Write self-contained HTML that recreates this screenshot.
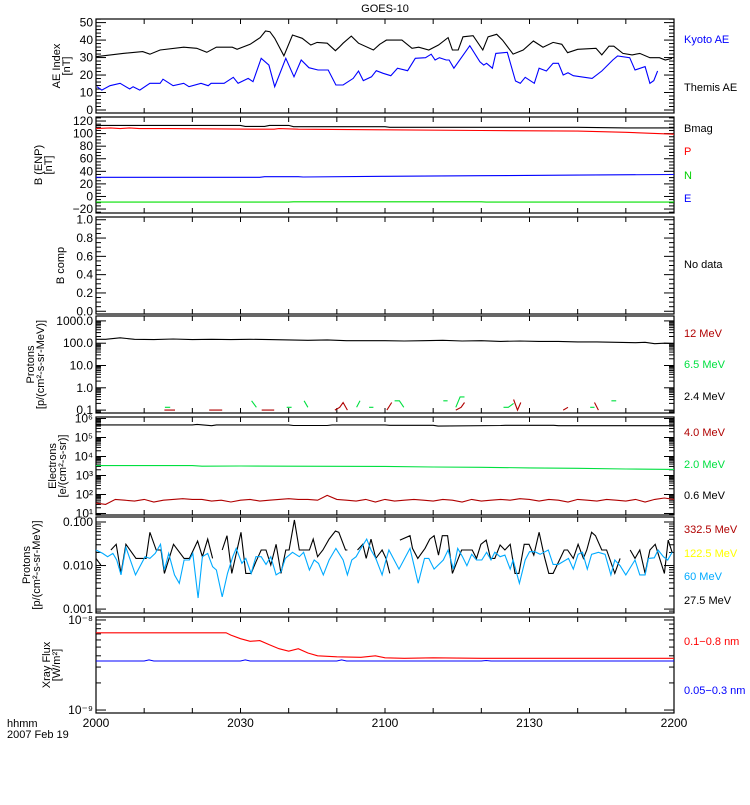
<!DOCTYPE html>
<html><head><meta charset="utf-8"><style>
body{margin:0;background:#fff}
svg{font-family:"Liberation Sans",sans-serif;font-size:11px}
</style></head><body>
<svg id="chart" width="750" height="800" viewBox="0 0 750 800" xmlns="http://www.w3.org/2000/svg">
<rect width="750" height="800" fill="#fff"/>
<text x="385" y="12" text-anchor="middle">GOES-10</text>
<g id="plots"></g>
<g>
<text x="684" y="43" fill="#0000ff">Kyoto AE</text>
<text x="684" y="91" fill="#000">Themis AE</text>
<text x="684" y="132" fill="#000">Bmag</text>
<text x="684" y="155" fill="#ff0000">P</text>
<text x="684" y="179" fill="#00d000">N</text>
<text x="684" y="202" fill="#0000ff">E</text>
<text x="684" y="268" fill="#000">No data</text>
<text x="684" y="337" fill="#b00000">12 MeV</text>
<text x="684" y="368" fill="#00e040">6.5 MeV</text>
<text x="684" y="400" fill="#000">2.4 MeV</text>
<text x="684" y="436" fill="#b00000">4.0 MeV</text>
<text x="684" y="468" fill="#00e040">2.0 MeV</text>
<text x="684" y="499" fill="#000">0.6 MeV</text>
<text x="684" y="533" fill="#b00000">332.5 MeV</text>
<text x="684" y="557" fill="#ffff00">122.5 MeV</text>
<text x="684" y="580" fill="#00aaff">60 MeV</text>
<text x="684" y="604" fill="#000">27.5 MeV</text>
<text x="684" y="645" fill="#ff0000">0.1−0.8 nm</text>
<text x="684" y="694" fill="#0000ff">0.05−0.3 nm</text>
</g>
<text x="7" y="727">hhmm</text>
<text x="7" y="738">2007 Feb 19</text>
</svg>
<script>
// ---- data (time in minutes after 20:00) ----
const xTickLabels = ["2000","2030","2100","2130","2200"];
const aeBlackT = [0,5.6,9.7,11.2,13.3,18.2,20.9,23,25,28.3,29.3,32,34.1,35.2,36.1,37.1,39,40.8,42.8,44.6,45.9,48,49.7,50.5,51.3,53,54.5,57.6,58.9,60.3,62,63.5,65.6,67,69.1,71.1,73.1,74,75.2,76.2,78.3,80.3,81.4,83.2,84.4,86.6,88.7,90.8,92.8,94.9,96.7,97.9,100,103.8,105,106.5,107.5,109.4,111.3,112.9,115,117,118.2,119.6];
const aeBlackV = [30.5,32.4,33.4,31.9,34.3,35.9,35.3,33,35.9,35.9,34.7,37.6,41.4,45.2,44.8,41,31,42.9,41,37.2,38.7,38.2,33.9,35.9,38.2,42.3,38.2,34.3,37.6,40,40,40,35.3,35.9,34.3,37.2,41.4,34.3,34.3,41.9,42.5,34.3,41.9,43.3,40,32,34.3,39.5,35.9,38.7,37.6,32.8,34.7,35.3,31.5,36.5,36.5,32.4,31.5,32.4,29.9,29.9,28.6,29.6];
const aeBlueT = [0.2,1.2,2.9,5,7,7.7,9.1,11.2,13.3,13.9,16,18.2,19.3,21.8,23.3,23.9,26.6,28.5,29.5,31.6,32.6,34.3,35.9,37.1,39.4,41.1,42.6,44.2,46.1,48.2,49.8,51.3,53.4,54.5,55.5,57.2,58.2,59.6,61.2,62.6,64.7,66.3,68.4,69.6,70.4,71.3,72.7,73.3,74.3,77.6,79.7,80.5,81.1,82.3,83,85.4,87.1,88.1,89.1,91,92,93.5,94.9,96,97,98,99.1,103,105,107.3,108.3,110.8,111.9,114,115,115.8,116.6];
const aeBlueV = [13.3,11.4,13.9,15.3,12,13.3,11.4,15.3,15.3,17.6,13.9,15.3,13.3,15.3,13.9,15.3,15.3,18.7,15.3,18.1,16.2,29.6,25.7,13.3,29.6,19,28.6,24.2,22.9,22.9,14.3,14.3,18.1,22.3,16.8,19,22.5,21,19.6,23.9,22.5,29.6,29.9,31.9,28.6,29.9,28.6,28.6,23.9,36.8,27.6,25.7,26.7,23.9,32.4,33,16.6,15.3,18.7,15.3,23.9,22.3,26.7,26.7,20,21.3,19.6,18.1,22.3,28.6,30.9,29.9,22.9,24.8,15.3,16.8,22.3];
const bmagT = [0,30,31,35,36,40,41,60,61,100,110,120];
const bmagV = [113,113,111.5,111.5,113,113,111,111,110,110,109,109];
const bpT = [0,3,5,7,9,15,34,37,38,42,60,80,100,110,120];
const bpV = [108,109,108,109,108,108,107,107,108,107,106,105,104,102,99];
const bnT = [0,34,35,42,43,60,80,100,120];
const bnV = [30.5,30.5,31.5,31.5,31,32,33,34,35];
const beT = [0,40,41,80,81,120];
const beV = [-9,-9,-8.5,-8.5,-9,-9];
const p24T = [0,2,5,8,12,16,20,24,28,32,36,40,44,48,52,56,60,64,68,72,76,80,84,88,92,96,100,104,108,112,114,116,118,120];
const p24V = [150,150,175,150,145,155,145,150,145,150,145,140,135,140,130,130,130,125,130,135,125,130,120,125,120,120,115,115,110,105,110,95,100,95];
const p65T = [14.3,15.4,null,32.3,33.3,null,39.6,40.6,null,43.2,44,null,54.1,54.8,null,56.7,57.6,null,62,63,63.9,null,72.1,73,null,74.7,75.6,76.5,null,84.6,85.6,86.7,null,102.6,103.5,null,107,108];
const p65V = [0.134,0.134,null,0.26,0.134,null,0.134,0.134,null,0.26,0.134,null,0.134,0.26,null,0.134,0.134,null,0.26,0.26,0.134,null,0.26,0.26,null,0.134,0.39,0.39,null,0.134,0.134,0.2,null,0.134,0.134,null,0.26,0.26];
const p12T = [14.2,16.4,null,23.5,26.2,null,34.4,37,null,49.6,50.6,51.3,52.2,null,60.4,61.4,null,74.7,75.8,76.5,null,86.7,87.5,88.2,null,97,98,null,103.5,104.3];
const p12V = [0.1,0.1,null,0.1,0.1,null,0.1,0.1,null,0.1,0.134,0.22,0.1,null,0.1,0.22,null,0.1,0.134,0.22,null,0.3,0.1,0.22,null,0.1,0.134,null,0.22,0.1];
const e06T = [0,20,21,24,25,40,41,48,49,60,61,70,71,84,85,95,96,120];
const e06V = [4.6e5,4.6e5,4.9e5,4.2e5,4.6e5,4.6e5,4.3e5,4.3e5,4.6e5,4.6e5,4.4e5,4.4e5,4.0e5,4.3e5,4.4e5,4.4e5,4.2e5,4.2e5];
const e20T = [0,20,22,30,40,50,60,70,80,90,100,110,120];
const e20V = [3300,3300,3100,3150,3100,3050,3000,2800,2700,2500,2400,2200,2100];
const e40V = [35,30,55,50,45,55,40,50,55,60,55,55,45,50,40,50,55,45,50,55,60,55,55,50,90,55,50,45,55,40,55,45,50,55,50,45,55,50,40,55,45,50,55,50,60,55,45,55,50,40,55,50,45,55,50,45,55,40,55,65,55];
const pr27T = [0,1,null,3.1,4.2,5.2,6.2,8.3,10.4,11.2,12.5,13.5,14.2,16.1,18.3,19.4,21.1,22.1,23.2,24.2,null,26.2,27.2,28.2,30.1,31.1,32.2,33.2,34.3,35.3,36.3,37.4,38.4,39.4,40.1,41.2,42.2,44.3,45.1,46,47.1,48.4,49.7,50.4,51.8,52.2,null,54.3,55.4,56.1,57.1,58.1,59.4,60.2,61,null,63.1,65.2,65.7,66.8,68.3,69.3,70.2,71.1,71.9,73,74,75.9,78.1,79,79.9,81,81.9,82.8,83.9,84.9,86,87,87.8,88.9,89.9,90.9,92,93.1,94,94.9,97.2,97.9,99.1,100.1,101.2,101.9,102.9,103.7,105,106,107.7,108.8,null,110.9,111.9,112.9,114,115,116.1,118,118.8,119.6];
const pr27V = [0.0146,0.0103,null,0.0227,0.0307,0.0066,0.0307,0.0146,0.0146,0.058,0.0227,0.0227,0.0066,0.0307,0.0146,0.0146,0.0366,0.016,0.0406,0.0146,null,0.0227,0.0485,0.0066,0.058,0.0066,0.0066,0.0122,0.0227,0.0227,0.0103,0.0307,0.0066,0.0227,0.0227,0.111,0.0227,0.0227,0.0406,0.016,0.0227,0.0406,0.062,0.058,0.0227,0.0227,null,0.0227,0.0307,0.0146,0.0406,0.0146,0.0227,0.0146,0.0066,null,0.0385,0.0485,0.0248,0.0146,0.0248,0.0406,0.0485,0.0174,0.0485,0.0485,0.0066,0.0227,0.0227,0.0146,0.0307,0.0385,0.0146,0.0146,0.0296,0.0227,0.0307,0.0066,0.0066,0.0307,0.0307,0.0174,0.058,0.016,0.0066,0.0066,0.0227,0.0227,0.0146,0.0307,0.0146,0.0227,0.058,0.0485,0.0227,0.0227,0.0066,0.0146,null,0.0227,0.0146,0.0227,0.0066,0.0227,0.0307,0.0066,0.0385,0.0201];
const pr60T = [0,1.4,2.4,3.5,4.3,5.2,6.2,8.2,10.2,11.2,12.3,13.4,14.2,15.1,16.3,17.3,18.3,19.4,20.1,21.2,22.1,23.2,24.2,25,26.2,27.3,28.4,29.1,30.3,31.1,32.2,33.2,34.3,35.3,36.3,37.4,38.4,39.3,40.8,42.2,43.1,44.3,45.3,46.2,47.2,48.4,49.8,51.3,52.2,53.1,54,55,56.2,57.1,58.1,59.4,60.2,60.8,62.9,65.2,66.9,68.2,69.1,70.2,72.1,73.1,74.2,75.1,76.1,77,78,79,80.1,81.1,82,82.8,83.9,84.9,86,86.6,87.9,89.1,90,91.1,92.2,93.9,94.9,96,98.1,99.1,100.1,101,102,102.9,104.3,105.7,106.9,107.7,108.8,110,111.9,112.9,114,114.7,115.9,116.7,117.8,118.7,119.6];
const pr60V = [0.0227,0.019,0.016,0.019,0.0134,0.0061,0.0262,0.0061,0.016,0.0146,0.019,0.0307,0.0079,0.019,0.0061,0.0039,0.0134,0.0134,0.019,0.0018,0.016,0.019,0.0094,0.0079,0.0019,0.0066,0.016,0.0248,0.0112,0.0146,0.0066,0.016,0.016,0.0106,0.016,0.0061,0.0072,0.0146,0.0201,0.016,0.0201,0.0079,0.0134,0.0112,0.0061,0.0134,0.0248,0.0134,0.0061,0.0134,0.016,0.0248,0.0406,0.0227,0.0146,0.0061,0.0134,0.0227,0.0083,0.0248,0.0039,0.0146,0.0146,0.0083,0.0134,0.0227,0.0083,0.0248,0.016,0.0099,0.0181,0.0134,0.0134,0.0201,0.0134,0.0201,0.016,0.0174,0.0083,0.0134,0.0039,0.0134,0.0208,0.0208,0.0181,0.0227,0.0106,0.0106,0.0146,0.0083,0.0181,0.0201,0.0083,0.0181,0.0201,0.0181,0.0061,0.0134,0.0099,0.0061,0.0134,0.0061,0.0061,0.0146,0.0151,0.0227,0.016,0.0134,0.0201];
const xlT = [0,27,28,30,32,34,36,38,40,42,44,46,50,55,58,60,64,70,80,100,120];
const xlV = [7.2e-9,7.2e-9,6.8e-9,6.2e-9,5.8e-9,5.9e-9,5.3e-9,4.8e-9,4.5e-9,4.8e-9,4.3e-9,4.0e-9,3.9e-9,3.85e-9,4.0e-9,3.8e-9,3.75e-9,3.8e-9,3.75e-9,3.75e-9,3.75e-9];
const xsT = [0,10,11,12,30,31,32,50,51,52,80,81,82,120];
const xsV = [3.5e-9,3.5e-9,3.6e-9,3.5e-9,3.5e-9,3.6e-9,3.5e-9,3.5e-9,3.6e-9,3.5e-9,3.5e-9,3.55e-9,3.5e-9,3.5e-9];

const NS="http://www.w3.org/2000/svg";
const X0=96,X1=674;
const xs=t=>X0+(t/120)*(X1-X0);
const root=document.getElementById('plots');
function mk(tag,attrs,parent){const e=document.createElementNS(NS,tag);for(const k in attrs)e.setAttribute(k,attrs[k]);(parent||root).appendChild(e);return e;}

const panels=[
 {name:'ae-index',top:19,bot:113,lo:-1.72,hi:52.06,log:false,maj:[0,10,20,30,40,50],lab:['0','10','20','30','40','50'],minStep:2,l1:'AE Index',l2:'[nT]',tx:[60,70]},
 {name:'b-enp',top:117,bot:213,lo:-26.3,hi:126.4,log:false,maj:[-20,0,20,40,60,80,100,120],lab:['−20','0','20','40','60','80','100','120'],minStep:5,l1:'B (ENP)',l2:'[nT]',tx:[42,52]},
 {name:'b-comp',top:217,bot:314,lo:-0.03,hi:1.03,log:false,maj:[0,0.2,0.4,0.6,0.8,1],lab:['0.0','0.2','0.4','0.6','0.8','1.0'],minStep:0.05,l1:'B comp',l2:'',tx:[64,0]},
 {name:'protons-low',top:316,bot:413,lo:-1.13,hi:3.22,log:true,maj:[-1,0,1,2,3],lab:['0.1','1.0','10.0','100.0','1000.0'],l1:'Protons',l2:'[p/(cm²-s-sr-MeV)]',tx:[34,44]},
 {name:'electrons',top:417,bot:515,lo:0.92,hi:6.08,log:true,maj:[1,2,3,4,5,6],lab:['10¹','10²','10³','10⁴','10⁵','10⁶'],l1:'Electrons',l2:'[e/(cm²-s-sr)]',tx:[56,66]},
 {name:'protons-high',top:517,bot:613,lo:-3.09,hi:-0.885,log:true,maj:[-3,-2,-1],lab:['0.001','0.010','0.100'],l1:'Protons',l2:'[p/(cm²-s-sr-MeV)]',tx:[30,40]},
 {name:'xray-flux',top:617,bot:713,lo:-9.033,hi:-7.967,log:true,maj:[-9,-8],lab:['10⁻⁹','10⁻⁸'],l1:'Xray Flux',l2:'[W/m²]',tx:[50,60]}
];
panels.forEach(p=>{
 p.y=v=>{const u=p.log?Math.log10(v):v;return p.bot-(u-p.lo)/(p.hi-p.lo)*(p.bot-p.top);};
 p.yu=u=>p.bot-(u-p.lo)/(p.hi-p.lo)*(p.bot-p.top);
 const g=mk('g',{});
 
 
 const fr=mk('rect',{x:X0,y:p.top,width:X1-X0,height:p.bot-p.top,fill:'none',stroke:'#000','stroke-width':1.2},g);
 
 
 for(let t=0;t<=120;t+=10){const x=xs(t);
  mk('line',{x1:x,x2:x,y1:p.bot,y2:p.bot-5,stroke:'#000'},g);
  mk('line',{x1:x,x2:x,y1:p.top,y2:p.top+5,stroke:'#000'},g);}
 const ticks=[];
 if(p.log){for(let d=Math.floor(p.lo);d<=Math.ceil(p.hi);d++){for(let m=1;m<10;m++){const u=d+Math.log10(m);if(u>=p.lo&&u<=p.hi)ticks.push([u,m===1]);}}}
 else{for(let v=Math.ceil(p.lo/p.minStep)*p.minStep;v<=p.hi+1e-9;v+=p.minStep){ticks.push([v,p.maj.some(q=>Math.abs(q-v)<1e-6)]);}}
 ticks.forEach(([u,mj])=>{const y=p.yu(u);const L=mj?10:5;
  mk('line',{x1:X0,x2:X0+L,y1:y,y2:y,stroke:'#000'},g);
  mk('line',{x1:X1,x2:X1-L,y1:y,y2:y,stroke:'#000'},g);});
 p.maj.forEach((m,i)=>{const t=mk('text',{x:X0-3,y:p.yu(m)+4,'text-anchor':'end','font-size':'12'},g);t.textContent=p.lab[i];
  
  });
 const cy=(p.top+p.bot)/2;
 const t1=mk('text',{x:0,y:0,'text-anchor':'middle',transform:`translate(${p.tx[0]},${cy}) rotate(-90)`},g);t1.textContent=p.l1;
 
 
 if(p.l2){const t2=mk('text',{x:0,y:0,'text-anchor':'middle',transform:`translate(${p.tx[1]},${cy}) rotate(-90)`},g);t2.textContent=p.l2;
  
  }
 p.g=g;
});
function series(p,T,V,color,name){
 let d='',pen=false;
 for(let i=0;i<T.length;i++){
  if(T[i]===null||V[i]===null){pen=false;continue;}
  d+=(pen?'L':'M')+xs(T[i]).toFixed(1)+','+p.y(V[i]).toFixed(1);pen=true;}
 const e=mk('path',{d:d,fill:'none',stroke:color,'stroke-width':1.1},p.g);
 
 
}
const P=panels;
series(P[0],aeBlackT,aeBlackV,'#000','themis-ae-line');
series(P[0],aeBlueT,aeBlueV,'#0000ff','kyoto-ae-line');
series(P[1],bmagT,bmagV,'#000','bmag-line');
series(P[1],bpT,bpV,'#ff0000','bp-line');
series(P[1],bnT,bnV,'#0000ff','bn-line');
series(P[1],beT,beV,'#00e000','be-line');
series(P[3],p24T,p24V,'#000','proton-2-4mev-line');
series(P[3],p65T,p65V,'#00e040','proton-6-5mev-line');
series(P[3],p12T,p12V,'#b00000','proton-12mev-line');
series(P[4],e06T,e06V,'#000','electron-0-6mev-line');
series(P[4],e20T,e20V,'#00e040','electron-2-0mev-line');
series(P[4],e40V.map((v,i)=>i*2),e40V,'#b00000','electron-4-0mev-line');
series(P[5],pr27T,pr27V,'#000','proton-27-5mev-line');
series(P[5],pr60T,pr60V,'#00aaff','proton-60mev-line');
series(P[6],xlT,xlV,'#ff0000','xray-long-line');
series(P[6],xsT,xsV,'#0000ff','xray-short-line');
xTickLabels.forEach((s,i)=>{const t=mk('text',{x:xs(i*30),y:727,'text-anchor':'middle','font-size':'12'});t.textContent=s;
 
 });
</script>
</body></html>
